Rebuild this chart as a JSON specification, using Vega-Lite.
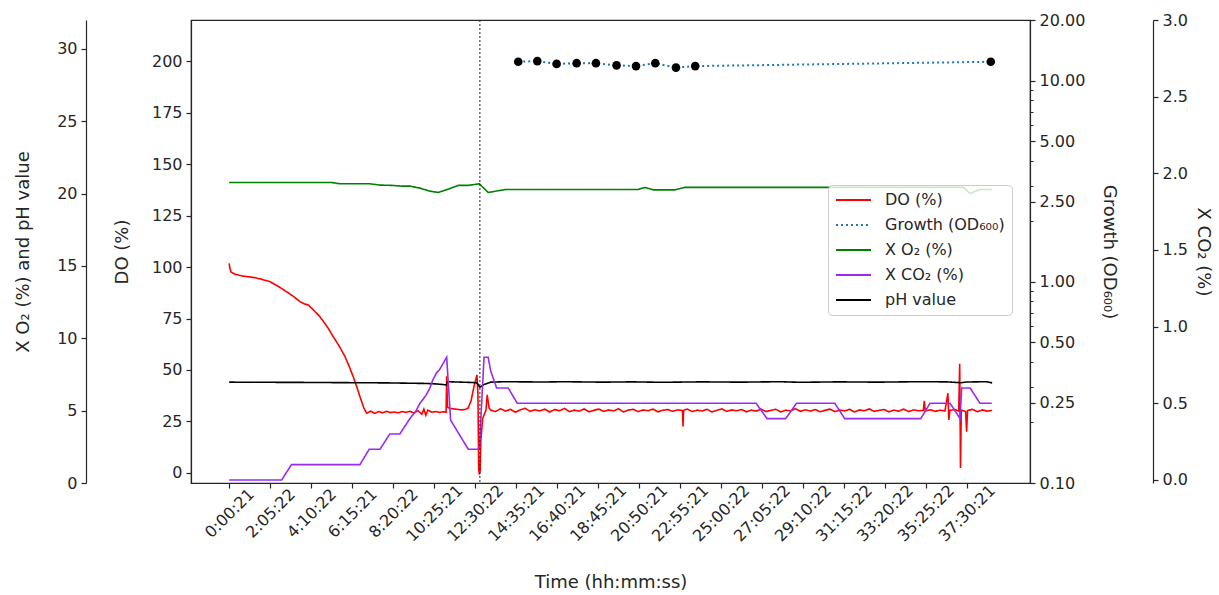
{
  "$schema": "https://vega.github.io/schema/vega-lite/v6.json",
  "width": 839,
  "height": 463,
  "autosize": {"type": "none"},
  "padding": {"left": 191, "top": 20, "right": 189, "bottom": 112},
  "background": "white",
  "config": {
    "font": "DejaVu Sans",
    "view": {"stroke": "#262626", "strokeWidth": 1.2},
    "axis": {
      "labelFont": "DejaVu Sans", "labelFontSize": 16, "labelColor": "#262626",
      "titleFont": "DejaVu Sans", "titleFontSize": 18, "titleFontWeight": "normal", "titleColor": "#262626",
      "domainColor": "#262626", "tickColor": "#262626", "tickSize": 5, "labelPadding": 4,
      "grid": false, "domainWidth": 1.2, "tickWidth": 1.2, "labelOverlap": false, "labelFlush": false
    },
    "legend": {
      "orient": "none", "legendX": 637, "legendY": 165,
      "fillColor": "rgba(255,255,255,0.8)", "strokeColor": "#cccccc", "cornerRadius": 4,
      "padding": 7, "labelFont": "DejaVu Sans", "labelFontSize": 16, "labelColor": "#262626",
      "symbolStrokeWidth": 2, "labelOffset": 34, "rowPadding": 9, "labelLimit": 300
    }
  },
  "datasets": {
    "do": [
      {"t":0.0,"v":101.8,"s":"DO (%)"},{"t":0.03,"v":99.5,"s":"DO (%)"},{"t":0.1,"v":97.5,"s":"DO (%)"},{"t":0.3,"v":96.5,"s":"DO (%)"},
      {"t":0.7,"v":95.6,"s":"DO (%)"},{"t":1.2,"v":95.0,"s":"DO (%)"},{"t":1.6,"v":94.2,"s":"DO (%)"},{"t":2.07,"v":92.9,"s":"DO (%)"},
      {"t":2.5,"v":90.6,"s":"DO (%)"},{"t":2.92,"v":88.0,"s":"DO (%)"},{"t":3.3,"v":85.5,"s":"DO (%)"},{"t":3.6,"v":83.2,"s":"DO (%)"},
      {"t":3.85,"v":82.0,"s":"DO (%)"},{"t":4.02,"v":81.6,"s":"DO (%)"},{"t":4.3,"v":79.0,"s":"DO (%)"},{"t":4.61,"v":75.9,"s":"DO (%)"},
      {"t":5.0,"v":70.8,"s":"DO (%)"},{"t":5.29,"v":66.2,"s":"DO (%)"},{"t":5.6,"v":61.5,"s":"DO (%)"},{"t":5.89,"v":56.5,"s":"DO (%)"},
      {"t":6.1,"v":51.8,"s":"DO (%)"},{"t":6.31,"v":46.7,"s":"DO (%)"},{"t":6.5,"v":41.5,"s":"DO (%)"},{"t":6.65,"v":37.0,"s":"DO (%)"},
      {"t":6.85,"v":31.5,"s":"DO (%)"},{"t":6.99,"v":29.0,"s":"DO (%)"},{"t":7.2,"v":30.0,"s":"DO (%)"},{"t":7.4,"v":28.9,"s":"DO (%)"},
      {"t":7.6,"v":29.8,"s":"DO (%)"},{"t":7.8,"v":29.2,"s":"DO (%)"},{"t":8.0,"v":29.9,"s":"DO (%)"},{"t":8.2,"v":29.3,"s":"DO (%)"},
      {"t":8.4,"v":29.6,"s":"DO (%)"},{"t":8.6,"v":29.2,"s":"DO (%)"},{"t":8.8,"v":29.8,"s":"DO (%)"},{"t":9.0,"v":29.4,"s":"DO (%)"},
      {"t":9.2,"v":29.9,"s":"DO (%)"},{"t":9.4,"v":29.1,"s":"DO (%)"},{"t":9.6,"v":30.2,"s":"DO (%)"},{"t":9.8,"v":28.5,"s":"DO (%)"},
      {"t":9.9,"v":31.0,"s":"DO (%)"},{"t":10.0,"v":28.0,"s":"DO (%)"},{"t":10.1,"v":30.5,"s":"DO (%)"},{"t":10.3,"v":29.5,"s":"DO (%)"},
      {"t":10.5,"v":29.8,"s":"DO (%)"},{"t":10.7,"v":29.4,"s":"DO (%)"},{"t":10.9,"v":29.7,"s":"DO (%)"},{"t":11.03,"v":29.5,"s":"DO (%)"},
      {"t":11.06,"v":47.0,"s":"DO (%)"},{"t":11.1,"v":32.0,"s":"DO (%)"},{"t":11.2,"v":31.4,"s":"DO (%)"},{"t":11.5,"v":31.0,"s":"DO (%)"},
      {"t":11.8,"v":30.6,"s":"DO (%)"},{"t":12.0,"v":30.8,"s":"DO (%)"},{"t":12.15,"v":31.5,"s":"DO (%)"},{"t":12.3,"v":35.0,"s":"DO (%)"},
      {"t":12.45,"v":42.0,"s":"DO (%)"},{"t":12.6,"v":47.6,"s":"DO (%)"},{"t":12.65,"v":38.0,"s":"DO (%)"},{"t":12.69,"v":1.5,"s":"DO (%)"},
      {"t":12.72,"v":-0.2,"s":"DO (%)"},{"t":12.76,"v":0.5,"s":"DO (%)"},{"t":12.8,"v":16.0,"s":"DO (%)"},{"t":12.89,"v":26.5,"s":"DO (%)"},
      {"t":13.06,"v":30.6,"s":"DO (%)"},{"t":13.12,"v":37.9,"s":"DO (%)"},{"t":13.22,"v":31.4,"s":"DO (%)"},{"t":13.3,"v":30.5,"s":"DO (%)"},
      {"t":13.55,"v":29.8,"s":"DO (%)"},{"t":13.8,"v":31.2,"s":"DO (%)"},{"t":14.05,"v":30.0,"s":"DO (%)"},{"t":14.3,"v":30.9,"s":"DO (%)"},
      {"t":14.55,"v":29.5,"s":"DO (%)"},{"t":14.8,"v":30.6,"s":"DO (%)"},{"t":15.05,"v":31.4,"s":"DO (%)"},{"t":15.3,"v":29.9,"s":"DO (%)"},
      {"t":15.55,"v":30.7,"s":"DO (%)"},{"t":15.8,"v":30.1,"s":"DO (%)"},{"t":16.05,"v":31.0,"s":"DO (%)"},{"t":16.3,"v":29.6,"s":"DO (%)"},
      {"t":16.55,"v":30.8,"s":"DO (%)"},{"t":16.8,"v":30.2,"s":"DO (%)"},{"t":17.05,"v":31.3,"s":"DO (%)"},{"t":17.3,"v":29.8,"s":"DO (%)"},
      {"t":17.55,"v":30.5,"s":"DO (%)"},{"t":17.8,"v":30.0,"s":"DO (%)"},{"t":18.05,"v":31.1,"s":"DO (%)"},{"t":18.3,"v":29.7,"s":"DO (%)"},
      {"t":18.55,"v":30.4,"s":"DO (%)"},{"t":18.8,"v":31.0,"s":"DO (%)"},{"t":19.05,"v":29.9,"s":"DO (%)"},{"t":19.3,"v":30.6,"s":"DO (%)"},
      {"t":19.55,"v":30.1,"s":"DO (%)"},{"t":19.8,"v":31.2,"s":"DO (%)"},{"t":20.05,"v":29.6,"s":"DO (%)"},{"t":20.3,"v":30.5,"s":"DO (%)"},
      {"t":20.55,"v":30.9,"s":"DO (%)"},{"t":20.8,"v":29.8,"s":"DO (%)"},{"t":21.05,"v":30.6,"s":"DO (%)"},{"t":21.3,"v":30.2,"s":"DO (%)"},
      {"t":21.55,"v":31.0,"s":"DO (%)"},{"t":21.8,"v":29.7,"s":"DO (%)"},{"t":22.05,"v":30.4,"s":"DO (%)"},{"t":22.3,"v":30.8,"s":"DO (%)"},
      {"t":22.55,"v":29.9,"s":"DO (%)"},{"t":22.8,"v":30.6,"s":"DO (%)"},{"t":23.05,"v":30.3,"s":"DO (%)"},{"t":23.08,"v":22.5,"s":"DO (%)"},
      {"t":23.11,"v":30.4,"s":"DO (%)"},{"t":23.3,"v":31.0,"s":"DO (%)"},{"t":23.55,"v":29.8,"s":"DO (%)"},{"t":23.8,"v":30.5,"s":"DO (%)"},
      {"t":24.05,"v":30.1,"s":"DO (%)"},{"t":24.3,"v":30.9,"s":"DO (%)"},{"t":24.55,"v":29.6,"s":"DO (%)"},{"t":24.8,"v":30.4,"s":"DO (%)"},
      {"t":25.05,"v":31.1,"s":"DO (%)"},{"t":25.3,"v":29.9,"s":"DO (%)"},{"t":25.55,"v":30.6,"s":"DO (%)"},{"t":25.8,"v":30.2,"s":"DO (%)"},
      {"t":26.05,"v":30.8,"s":"DO (%)"},{"t":26.3,"v":29.7,"s":"DO (%)"},{"t":26.55,"v":30.5,"s":"DO (%)"},{"t":26.8,"v":30.0,"s":"DO (%)"},
      {"t":27.05,"v":31.0,"s":"DO (%)"},{"t":27.3,"v":29.8,"s":"DO (%)"},{"t":27.55,"v":30.4,"s":"DO (%)"},{"t":27.8,"v":30.9,"s":"DO (%)"},
      {"t":28.05,"v":29.6,"s":"DO (%)"},{"t":28.3,"v":30.5,"s":"DO (%)"},{"t":28.55,"v":30.1,"s":"DO (%)"},{"t":28.8,"v":31.2,"s":"DO (%)"},
      {"t":29.05,"v":29.9,"s":"DO (%)"},{"t":29.3,"v":30.6,"s":"DO (%)"},{"t":29.55,"v":30.0,"s":"DO (%)"},{"t":29.8,"v":30.8,"s":"DO (%)"},
      {"t":30.05,"v":29.7,"s":"DO (%)"},{"t":30.3,"v":30.4,"s":"DO (%)"},{"t":30.55,"v":31.0,"s":"DO (%)"},{"t":30.8,"v":29.8,"s":"DO (%)"},
      {"t":31.05,"v":30.5,"s":"DO (%)"},{"t":31.3,"v":30.1,"s":"DO (%)"},{"t":31.55,"v":30.9,"s":"DO (%)"},{"t":31.8,"v":29.6,"s":"DO (%)"},
      {"t":32.05,"v":30.6,"s":"DO (%)"},{"t":32.3,"v":30.2,"s":"DO (%)"},{"t":32.55,"v":31.1,"s":"DO (%)"},{"t":32.8,"v":29.9,"s":"DO (%)"},
      {"t":33.05,"v":30.4,"s":"DO (%)"},{"t":33.3,"v":30.8,"s":"DO (%)"},{"t":33.55,"v":29.7,"s":"DO (%)"},{"t":33.8,"v":30.5,"s":"DO (%)"},
      {"t":34.05,"v":30.0,"s":"DO (%)"},{"t":34.3,"v":31.0,"s":"DO (%)"},{"t":34.55,"v":29.8,"s":"DO (%)"},{"t":34.8,"v":30.6,"s":"DO (%)"},
      {"t":35.05,"v":30.2,"s":"DO (%)"},{"t":35.3,"v":30.4,"s":"DO (%)"},{"t":35.35,"v":35.0,"s":"DO (%)"},{"t":35.4,"v":30.1,"s":"DO (%)"},
      {"t":35.65,"v":30.7,"s":"DO (%)"},{"t":35.9,"v":29.9,"s":"DO (%)"},{"t":36.15,"v":30.5,"s":"DO (%)"},{"t":36.4,"v":30.1,"s":"DO (%)"},
      {"t":36.55,"v":38.7,"s":"DO (%)"},{"t":36.6,"v":25.7,"s":"DO (%)"},{"t":36.65,"v":30.4,"s":"DO (%)"},{"t":36.9,"v":30.8,"s":"DO (%)"},
      {"t":37.1,"v":30.0,"s":"DO (%)"},{"t":37.15,"v":53.0,"s":"DO (%)"},{"t":37.19,"v":2.4,"s":"DO (%)"},{"t":37.23,"v":30.5,"s":"DO (%)"},
      {"t":37.45,"v":29.8,"s":"DO (%)"},{"t":37.5,"v":20.0,"s":"DO (%)"},{"t":37.55,"v":30.3,"s":"DO (%)"},{"t":37.8,"v":30.9,"s":"DO (%)"},
      {"t":38.05,"v":29.7,"s":"DO (%)"},{"t":38.3,"v":30.6,"s":"DO (%)"},{"t":38.55,"v":30.0,"s":"DO (%)"},{"t":38.8,"v":30.4,"s":"DO (%)"}
    ],
    "growth": [
      {"t":14.70,"v":12.4,"s":"Growth (OD₆₀₀)"},{"t":15.67,"v":12.5,"s":"Growth (OD₆₀₀)"},{"t":16.65,"v":12.1,"s":"Growth (OD₆₀₀)"},
      {"t":17.67,"v":12.2,"s":"Growth (OD₆₀₀)"},{"t":18.65,"v":12.2,"s":"Growth (OD₆₀₀)"},{"t":19.70,"v":11.9,"s":"Growth (OD₆₀₀)"},
      {"t":20.69,"v":11.8,"s":"Growth (OD₆₀₀)"},{"t":21.67,"v":12.2,"s":"Growth (OD₆₀₀)"},{"t":22.72,"v":11.6,"s":"Growth (OD₆₀₀)"},
      {"t":23.70,"v":11.8,"s":"Growth (OD₆₀₀)"},{"t":38.73,"v":12.4,"s":"Growth (OD₆₀₀)"}
    ],
    "o2ph": [
      {"t":0,"v":20.77,"s":"X O₂ (%)"},{"t":5.2,"v":20.77,"s":"X O₂ (%)"},{"t":5.63,"v":20.68,"s":"X O₂ (%)"},{"t":7.16,"v":20.68,"s":"X O₂ (%)"},
      {"t":7.67,"v":20.59,"s":"X O₂ (%)"},{"t":8.26,"v":20.57,"s":"X O₂ (%)"},{"t":8.77,"v":20.52,"s":"X O₂ (%)"},{"t":9.19,"v":20.52,"s":"X O₂ (%)"},
      {"t":9.70,"v":20.38,"s":"X O₂ (%)"},{"t":10.21,"v":20.17,"s":"X O₂ (%)"},{"t":10.63,"v":20.08,"s":"X O₂ (%)"},{"t":11.14,"v":20.31,"s":"X O₂ (%)"},
      {"t":11.65,"v":20.57,"s":"X O₂ (%)"},{"t":12.16,"v":20.57,"s":"X O₂ (%)"},{"t":12.72,"v":20.68,"s":"X O₂ (%)"},{"t":13.17,"v":20.08,"s":"X O₂ (%)"},
      {"t":13.77,"v":20.22,"s":"X O₂ (%)"},{"t":14.11,"v":20.29,"s":"X O₂ (%)"},{"t":20.8,"v":20.29,"s":"X O₂ (%)"},{"t":21.14,"v":20.43,"s":"X O₂ (%)"},
      {"t":21.57,"v":20.26,"s":"X O₂ (%)"},{"t":22.67,"v":20.26,"s":"X O₂ (%)"},{"t":23.18,"v":20.43,"s":"X O₂ (%)"},{"t":37.34,"v":20.43,"s":"X O₂ (%)"},
      {"t":37.68,"v":20.01,"s":"X O₂ (%)"},{"t":38.18,"v":20.29,"s":"X O₂ (%)"},{"t":38.78,"v":20.29,"s":"X O₂ (%)"},
      {"t":0,"v":6.97,"s":"pH value"},{"t":4,"v":6.95,"s":"pH value"},{"t":8,"v":6.92,"s":"pH value"},{"t":10,"v":6.88,"s":"pH value"},
      {"t":10.6,"v":6.84,"s":"pH value"},{"t":11.05,"v":6.78,"s":"pH value"},{"t":11.1,"v":7.0,"s":"pH value"},{"t":11.6,"v":6.98,"s":"pH value"},
      {"t":12.3,"v":6.95,"s":"pH value"},{"t":12.6,"v":6.92,"s":"pH value"},{"t":12.75,"v":6.62,"s":"pH value"},{"t":12.95,"v":6.80,"s":"pH value"},
      {"t":13.3,"v":6.97,"s":"pH value"},{"t":14,"v":7.0,"s":"pH value"},{"t":16,"v":6.98,"s":"pH value"},{"t":17,"v":7.0,"s":"pH value"},
      {"t":19,"v":6.97,"s":"pH value"},{"t":20.5,"v":6.99,"s":"pH value"},{"t":22,"v":6.96,"s":"pH value"},{"t":24,"v":6.99,"s":"pH value"},
      {"t":26,"v":6.97,"s":"pH value"},{"t":28,"v":7.0,"s":"pH value"},{"t":29,"v":6.96,"s":"pH value"},{"t":31,"v":6.99,"s":"pH value"},
      {"t":33,"v":6.97,"s":"pH value"},{"t":35,"v":7.0,"s":"pH value"},{"t":36.5,"v":6.99,"s":"pH value"},{"t":37.2,"v":6.93,"s":"pH value"},
      {"t":37.5,"v":6.98,"s":"pH value"},{"t":38.5,"v":7.0,"s":"pH value"},{"t":38.8,"v":6.92,"s":"pH value"}
    ],
    "co2": [
      {"t":0,"v":0,"s":"X CO₂ (%)"},{"t":2.67,"v":0,"s":"X CO₂ (%)"},{"t":3.17,"v":0.1,"s":"X CO₂ (%)"},{"t":6.65,"v":0.1,"s":"X CO₂ (%)"},
      {"t":7.12,"v":0.2,"s":"X CO₂ (%)"},{"t":7.67,"v":0.2,"s":"X CO₂ (%)"},{"t":8.17,"v":0.3,"s":"X CO₂ (%)"},{"t":8.68,"v":0.3,"s":"X CO₂ (%)"},
      {"t":9.19,"v":0.4,"s":"X CO₂ (%)"},{"t":9.5,"v":0.45,"s":"X CO₂ (%)"},{"t":9.7,"v":0.5,"s":"X CO₂ (%)"},{"t":10.0,"v":0.55,"s":"X CO₂ (%)"},
      {"t":10.21,"v":0.6,"s":"X CO₂ (%)"},{"t":10.35,"v":0.65,"s":"X CO₂ (%)"},{"t":10.55,"v":0.7,"s":"X CO₂ (%)"},{"t":10.7,"v":0.72,"s":"X CO₂ (%)"},
      {"t":11.06,"v":0.8,"s":"X CO₂ (%)"},{"t":11.26,"v":0.39,"s":"X CO₂ (%)"},{"t":12.16,"v":0.2,"s":"X CO₂ (%)"},{"t":12.72,"v":0.2,"s":"X CO₂ (%)"},
      {"t":12.96,"v":0.8,"s":"X CO₂ (%)"},{"t":13.17,"v":0.8,"s":"X CO₂ (%)"},{"t":13.3,"v":0.71,"s":"X CO₂ (%)"},{"t":13.6,"v":0.6,"s":"X CO₂ (%)"},
      {"t":14.19,"v":0.6,"s":"X CO₂ (%)"},{"t":14.65,"v":0.5,"s":"X CO₂ (%)"},{"t":26.8,"v":0.5,"s":"X CO₂ (%)"},{"t":27.35,"v":0.4,"s":"X CO₂ (%)"},
      {"t":28.3,"v":0.4,"s":"X CO₂ (%)"},{"t":28.85,"v":0.5,"s":"X CO₂ (%)"},{"t":30.8,"v":0.5,"s":"X CO₂ (%)"},{"t":31.3,"v":0.4,"s":"X CO₂ (%)"},
      {"t":35.17,"v":0.4,"s":"X CO₂ (%)"},{"t":35.64,"v":0.5,"s":"X CO₂ (%)"},{"t":36.66,"v":0.5,"s":"X CO₂ (%)"},{"t":37.17,"v":0.4,"s":"X CO₂ (%)"},
      {"t":37.25,"v":0.6,"s":"X CO₂ (%)"},{"t":37.68,"v":0.6,"s":"X CO₂ (%)"},{"t":38.18,"v":0.5,"s":"X CO₂ (%)"},{"t":38.78,"v":0.5,"s":"X CO₂ (%)"}
    ],
    "vline": [{"t": 12.75}]
  },
  "layer": [
    {
      "data": {"name": "do"},
      "mark": {"type": "line", "strokeWidth": 1.6, "interpolate": "linear"},
      "encoding": {
        "x": {
          "field": "t", "type": "quantitative",
          "scale": {"domain": [-1.942, 40.725], "nice": false, "zero": false},
          "axis": {
            "title": "Time (hh:mm:ss)",
            "values": [0.0058333, 2.0894444, 4.1727778, 6.2558333, 8.3394444, 10.4225, 12.5061111, 14.5891667, 16.6725, 18.7558333, 20.8391667, 22.9225, 25.0061111, 27.0894444, 29.1727778, 31.2561111, 33.3394444, 35.4227778, 37.5058333],
            "labelExpr": "['0:00:21','2:05:22','4:10:22','6:15:21','8:20:22','10:25:21','12:30:22','14:35:21','16:40:21','18:45:21','20:50:21','22:55:21','25:00:22','27:05:22','29:10:22','31:15:22','33:20:22','35:25:22','37:30:21'][round((datum.value - 0.0058333) / 2.0833333)]",
            "labelAngle": -45, "labelAlign": "center", "labelBaseline": "middle", "labelPadding": 25,
            "titlePadding": 29
          }
        },
        "y": {
          "field": "v", "type": "quantitative",
          "scale": {"domain": [-4.9, 220], "nice": false, "zero": false},
          "axis": {"orient": "left", "title": "DO (%)", "values": [0, 25, 50, 75, 100, 125, 150, 175, 200], "titlePadding": 20}
        },
        "color": {
          "field": "s", "type": "nominal",
          "scale": {"domain": ["DO (%)", "Growth (OD₆₀₀)", "X O₂ (%)", "X CO₂ (%)", "pH value"], "range": ["#ff0000", "#1f77b4", "#008000", "#9a2af0", "#000000"]},
          "legend": {"title": null, "symbolType": "M-1,0H4", "symbolSize": 196}
        },
        "strokeDash": {
          "field": "s", "type": "nominal",
          "scale": {"domain": ["DO (%)", "Growth (OD₆₀₀)", "X O₂ (%)", "X CO₂ (%)", "pH value"], "range": [[1, 0], [2, 3], [1, 0], [1, 0], [1, 0]]},
          "legend": {"title": null, "symbolType": "M-1,0H4", "symbolSize": 196}
        }
      }
    },
    {
      "data": {"name": "growth"},
      "layer": [
        {
          "mark": {"type": "line", "strokeWidth": 2},
          "encoding": {
            "x": {"field": "t", "type": "quantitative"},
            "y": {
              "field": "v", "type": "quantitative",
              "scale": {"type": "log", "domain": [0.1, 20], "nice": false},
              "axis": {"orient": "right", "title": "Growth (OD₆₀₀)", "values": [0.1, 0.25, 0.5, 1, 2.5, 5, 10, 20], "format": ".2f", "titlePadding": 15}
            },
            "color": {"field": "s", "type": "nominal", "legend": {"title": null}},
            "strokeDash": {"field": "s", "type": "nominal", "legend": {"title": null}}
          }
        },
        {
          "mark": {"type": "point", "filled": true, "color": "black", "size": 75, "opacity": 1},
          "encoding": {
            "x": {"field": "t", "type": "quantitative"},
            "y": {"field": "v", "type": "quantitative"}
          }
        }
      ]
    },
    {
      "data": {"name": "growth"},
      "mark": {"type": "point", "opacity": 0},
      "encoding": {
        "x": {"field": "t", "type": "quantitative"},
        "y": {
          "field": "v", "type": "quantitative",
          "scale": {"type": "log", "domain": [0.1, 20], "nice": false},
          "axis": {"orient": "right", "offset": 0, "title": null, "labels": false, "domain": false, "tickSize": 3, "tickWidth": 1,
                   "values": [0.2, 0.3, 0.4, 0.6, 0.7, 0.8, 0.9, 2, 3, 4, 6, 7, 8, 9]}
        }
      }
    },
    {
      "data": {"name": "o2ph"},
      "mark": {"type": "line", "strokeWidth": 1.6},
      "encoding": {
        "x": {"field": "t", "type": "quantitative"},
        "y": {
          "field": "v", "type": "quantitative",
          "scale": {"domain": [0, 32], "nice": false, "zero": false},
          "axis": {"orient": "left", "offset": 105, "title": "X O₂ (%) and pH value", "values": [0, 5, 10, 15, 20, 25, 30], "titlePadding": 24}
        },
        "color": {"field": "s", "type": "nominal", "legend": {"title": null}},
        "strokeDash": {"field": "s", "type": "nominal", "legend": {"title": null}}
      }
    },
    {
      "data": {"name": "co2"},
      "mark": {"type": "line", "strokeWidth": 1.6},
      "encoding": {
        "x": {"field": "t", "type": "quantitative"},
        "y": {
          "field": "v", "type": "quantitative",
          "scale": {"domain": [-0.02, 3.0], "nice": false, "zero": false},
          "axis": {"orient": "right", "offset": 123, "title": "X CO₂ (%)", "values": [0, 0.5, 1, 1.5, 2, 2.5, 3], "format": ".1f", "titlePadding": 6}
        },
        "color": {"field": "s", "type": "nominal", "legend": {"title": null}},
        "strokeDash": {"field": "s", "type": "nominal", "legend": {"title": null}}
      }
    },
    {
      "data": {"name": "vline"},
      "mark": {"type": "rule", "strokeDash": [2, 2], "color": "#222222", "strokeWidth": 1},
      "encoding": {"x": {"field": "t", "type": "quantitative"}}
    }
  ],
  "resolve": {"scale": {"y": "independent"}}
}
